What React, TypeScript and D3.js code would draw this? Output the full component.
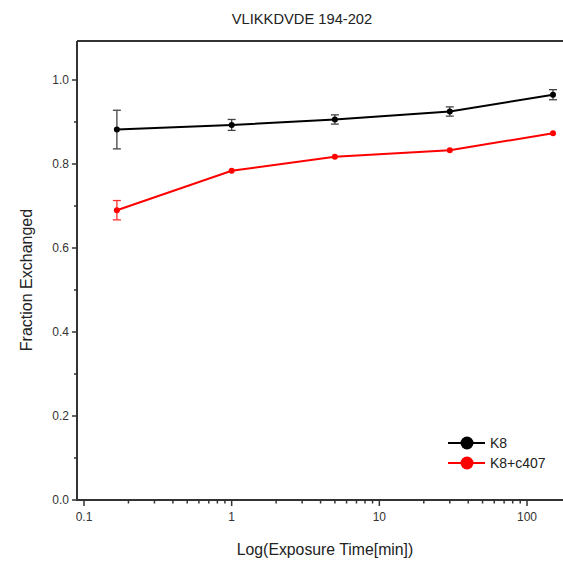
import React from "react";
import * as d3 from "d3";

const times = [0.167, 1, 5, 30, 150];
const k8Values = [0.882, 0.893, 0.906, 0.925, 0.965];
const k8Errors = [0.046, 0.013, 0.011, 0.011, 0.012];
const c407Values = [0.69, 0.784, 0.817, 0.833, 0.873];
const c407Errors = [0.023, 0.0, 0.0, 0.0, 0.0];
const yTicks = [0, 0.2, 0.4, 0.6, 0.8, 1.0];
const yMinorTicks = [0.1, 0.3, 0.5, 0.7, 0.9];
const xTicks = [0.1, 1, 10, 100];
const seriesNames = ["K8", "K8+c407"];
const seriesColors = ["#000000", "#ff0000"];

export default function App() {
  const W = 563, H = 563;
  const left = 77, top = 41, bottom = 500, right = 570;
  const x = d3.scaleLog().domain([0.1, 100]).range([84, 527]);
  const y = d3.scaleLinear().domain([0, 1]).range([500, 80]);
  const font = "'Liberation Sans', Arial, sans-serif";
  const axisColor = "#333";

  const minorX: number[] = [];
  for (let d = 0.1; d < 200; d *= 10) {
    for (let m = 2; m <= 9; m++) {
      const v = d * m;
      if (x(v) < right) minorX.push(v);
    }
  }

  const line = d3
    .line<[number, number]>()
    .x((d) => x(d[0]))
    .y((d) => y(d[1]));

  const series = [
    { name: seriesNames[0], color: seriesColors[0], errColor: "#444", values: k8Values, errors: k8Errors },
    { name: seriesNames[1], color: seriesColors[1], errColor: "#ff3030", values: c407Values, errors: c407Errors },
  ];

  return (
    <svg width={W} height={H} style={{ position: "absolute", left: 0, top: 0, background: "#fff" }}>
      <rect width={W} height={H} fill="#fff" />
      <text x={302} y={24} textAnchor="middle" fontFamily={font} fontSize={14.7} fill="#222">
        VLIKKDVDE 194-202
      </text>
      {/* axes */}
      <line x1={left} y1={top} x2={right} y2={top} stroke={axisColor} strokeWidth={2} />
      <line x1={left} y1={top} x2={left} y2={bottom + 1} stroke={axisColor} strokeWidth={2} />
      <line x1={left - 1} y1={bottom} x2={right} y2={bottom} stroke={axisColor} strokeWidth={2} />
      {yTicks.map((t) => (
        <g key={"y" + t}>
          <line x1={left - 5} x2={left} y1={y(t)} y2={y(t)} stroke={axisColor} strokeWidth={1.5} />
          <text x={left - 8} y={y(t) + 4} textAnchor="end" fontFamily={font} fontSize={12} fill="#333">
            {t.toFixed(1)}
          </text>
        </g>
      ))}
      {yMinorTicks.map((t) => (
        <line key={"ym" + t} x1={left - 3} x2={left} y1={y(t)} y2={y(t)} stroke={axisColor} strokeWidth={1.5} />
      ))}
      {xTicks.map((t) => (
        <g key={"x" + t}>
          <line x1={x(t)} x2={x(t)} y1={bottom} y2={bottom + 6} stroke={axisColor} strokeWidth={1.5} />
          <text x={x(t)} y={521} textAnchor="middle" fontFamily={font} fontSize={12} fill="#333">
            {t >= 1 ? String(t) : "0.1"}
          </text>
        </g>
      ))}
      {minorX.map((t, i) => (
        <line key={"xm" + i} x1={x(t)} x2={x(t)} y1={bottom} y2={bottom + 3.5} stroke={axisColor} strokeWidth={1.5} />
      ))}
      <text x={325} y={555} textAnchor="middle" fontFamily={font} fontSize={15.8} fill="#222">
        Log(Exposure Time[min])
      </text>
      <text
        transform={`translate(32,280) rotate(-90)`}
        textAnchor="middle"
        fontFamily={font}
        fontSize={16}
        fill="#222"
      >
        Fraction Exchanged
      </text>
      {/* data */}
      {series.map((s) => {
        const pts: [number, number][] = times.map((t, i) => [t, s.values[i]]);
        return (
          <g key={s.name}>
            <path d={line(pts) || ""} fill="none" stroke={s.color} strokeWidth={2} />
            {times.map((t, i) =>
              s.errors[i] > 0 ? (
                <g key={i} stroke={s.errColor} strokeWidth={1.3}>
                  <line x1={x(t)} x2={x(t)} y1={y(s.values[i] - s.errors[i])} y2={y(s.values[i] + s.errors[i])} />
                  <line x1={x(t) - 4} x2={x(t) + 4} y1={y(s.values[i] - s.errors[i])} y2={y(s.values[i] - s.errors[i])} />
                  <line x1={x(t) - 4} x2={x(t) + 4} y1={y(s.values[i] + s.errors[i])} y2={y(s.values[i] + s.errors[i])} />
                </g>
              ) : null
            )}
            {times.map((t, i) => (
              <circle key={"c" + i} cx={x(t)} cy={y(s.values[i])} r={3} fill={s.color} />
            ))}
          </g>
        );
      })}
      {/* legend */}
      {series.map((s, i) => (
        <g key={"leg" + i} transform={`translate(0,${443 + i * 20})`}>
          <line x1={448} x2={485} y1={0} y2={0} stroke={s.color} strokeWidth={2} />
          <circle cx={467} cy={0} r={6.5} fill={s.color} />
          <text x={490} y={5} fontFamily={font} fontSize={14} fill="#222">
            {s.name}
          </text>
        </g>
      ))}
    </svg>
  );
}
